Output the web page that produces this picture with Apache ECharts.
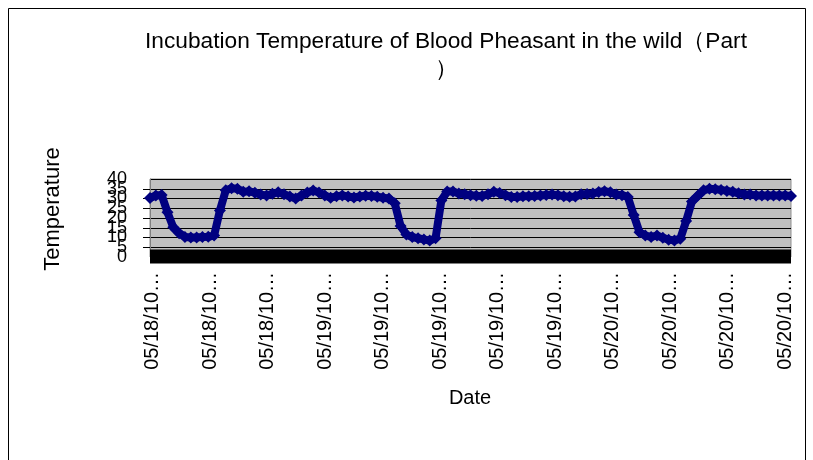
<!DOCTYPE html>
<html>
<head>
<meta charset="utf-8">
<script src="https://cdn.jsdelivr.net/npm/echarts@6/dist/echarts.min.js"></script>
<style>
html,body{margin:0;padding:0;background:#fff;}
#c{width:813px;height:460px;}
</style>
</head>
<body>
<div id="c"></div>
<script>
// ---- data ----
var titleText = 'Incubation Temperature of Blood Pheasant in the wild\uFF08Part\n\uFF09';
var yTitle = 'Temperature';
var xTitle = 'Date';
// tick labels shown under the axis (every 5 hours)
var tickLabels = ['05/18/10 10:00','05/18/10 15:00','05/18/10 20:00',
  '05/19/10 01:00','05/19/10 06:00','05/19/10 11:00','05/19/10 16:00','05/19/10 21:00',
  '05/20/10 02:00','05/20/10 07:00','05/20/10 12:00','05/20/10 17:00'];
// temperature readings, one every 30 minutes from 05/18/10 10:00
var temps = [
 30.3,31.5,31.8,22.9,15.2,12.2,10.3,10.0,10.0,10.2,
 10.4,11.0,23.9,34.2,35.2,35.0,33.4,33.7,33.0,32.0,
 31.6,32.4,33.2,32.2,31.0,30.0,31.5,33.1,34.1,33.1,
 31.6,30.4,31.1,31.6,31.0,30.5,31.0,31.4,31.3,30.9,
 30.4,30.0,27.6,15.9,11.5,10.2,9.6,9.0,8.4,9.6,
 29.0,33.6,33.6,32.6,32.2,31.7,31.4,31.3,32.2,33.4,
 32.8,31.7,30.8,30.8,31.1,31.2,31.3,31.5,31.8,32.0,
 31.7,31.2,30.9,31.0,32.2,32.3,32.6,33.3,33.7,33.2,
 32.0,31.7,30.8,21.6,12.7,11.0,10.3,11.0,9.9,8.9,
 8.5,9.4,18.4,28.5,31.4,34.2,35.0,34.8,34.4,33.9,
 33.4,32.7,32.1,32.0,31.6,31.5,31.5,31.6,31.6,31.5,31.3
];
var yMin = 0, yMax = 40, yStep = 5;

// category names: timestamps every 30 minutes
function pad(n){return (n<10?'0':'')+n;}
var times = [];
for (var i=0;i<temps.length;i++){
  var mins = 10*60 + i*30;
  var day = 18 + Math.floor(mins/1440);
  var m = mins % 1440;
  times.push('05/'+day+'/10 '+pad(Math.floor(m/60))+':'+pad(m%60));
}

var chart = echarts.init(document.getElementById('c'), null, {renderer:'canvas'});
var font = '"Liberation Sans", Arial, sans-serif';
var yLabelStyle = {margin:23,fontFamily:font,fontSize:18,color:'#000'};
chart.setOption({
  animation:false,
  backgroundColor:'#ffffff',
  title:{
    text:titleText, left:441, top:23, textAlign:'center',
    textStyle:{fontFamily:font,fontSize:22.7,fontWeight:'normal',color:'#000',lineHeight:28}
  },
  grid:[
    {left:150,right:22,top:179,bottom:203,show:true,backgroundColor:'#c0c0c0',borderWidth:1,borderColor:'#909090',containLabel:false},
    {left:152.5,right:28,top:179,bottom:203,show:false,containLabel:false}
  ],
  xAxis:[
    {gridIndex:0,type:'category',data:times,boundaryGap:false,
     axisLine:{show:false},axisTick:{show:false},axisLabel:{show:false},splitLine:{show:false}},
    {gridIndex:1,type:'category',data:tickLabels,boundaryGap:false,
     axisLine:{show:false},axisTick:{show:false},splitLine:{show:false},
     axisLabel:{show:true,interval:0,rotate:90,margin:15,fontFamily:font,fontSize:20,color:'#000',
       formatter:function(v){return v.slice(0,8)+'\u2026';}}}
  ],
  yAxis:[
    {gridIndex:0,type:'value',min:yMin,max:yMax,interval:yStep,
     axisLine:{show:true,lineStyle:{color:'#808080'}},
     axisTick:{show:true,length:7,lineStyle:{color:'#000'}},
     axisLabel:Object.assign({showMinLabel:false,showMaxLabel:false},yLabelStyle),
     splitLine:{show:true,lineStyle:{color:'#000',width:1}}},
    {gridIndex:1,type:'value',min:yMin,max:yMax,show:false},
    {gridIndex:0,type:'value',min:yMin,max:yMax,interval:yMax-yMin,position:'left',
     axisLine:{show:false},axisTick:{show:false},splitLine:{show:false},
     axisLabel:Object.assign({showMinLabel:true,showMaxLabel:true},yLabelStyle)}
  ],
  graphic:[
    {type:'rect',z:1,shape:{x:150,y:249.5,width:641,height:14},style:{fill:'#000'}},
    {type:'rect',z:1,shape:{x:8.5,y:8.5,width:797,height:470},style:{fill:'none',stroke:'#000',lineWidth:1}},
    {type:'text',z:5,x:53,y:209,rotation:Math.PI/2,
     style:{text:yTitle,fontFamily:font,fontSize:22,fill:'#000',textAlign:'center',textVerticalAlign:'middle'}},
    {type:'text',z:5,x:470,y:398,
     style:{text:xTitle,fontFamily:font,fontSize:20,fill:'#000',textAlign:'center',textVerticalAlign:'middle'}}
  ],
  series:[{
    type:'line',xAxisIndex:0,yAxisIndex:0,data:temps,z:5,
    symbol:'diamond',symbolSize:12,showAllSymbol:true,clip:false,
    itemStyle:{color:'#000080'},
    lineStyle:{color:'#000080',width:8}
  }]
});
</script>
</body>
</html>
